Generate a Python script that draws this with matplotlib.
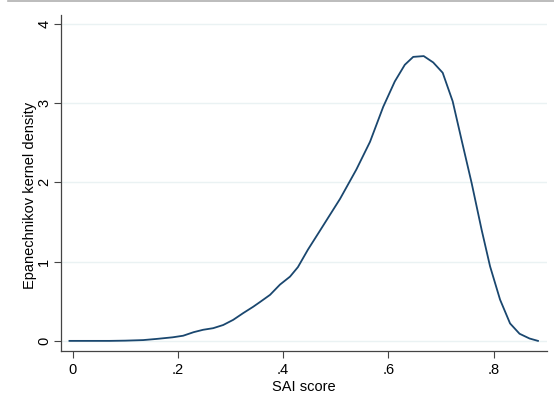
import numpy as np
import matplotlib.pyplot as plt
from matplotlib.lines import Line2D

# Kernel density estimate (SAI score vs density)
sai_score = [-0.006, 0.03, 0.07, 0.10, 0.134, 0.16, 0.19, 0.21, 0.23, 0.248,
             0.267, 0.286, 0.305, 0.324, 0.343, 0.356, 0.375, 0.394, 0.413,
             0.428, 0.447, 0.469, 0.488, 0.508, 0.539, 0.565, 0.590, 0.612,
             0.631, 0.647, 0.667, 0.685, 0.703, 0.722, 0.739, 0.758, 0.777,
             0.793, 0.812, 0.831, 0.849, 0.868, 0.884]
density = [0.0, 0.0, 0.0, 0.003, 0.01, 0.025, 0.045, 0.065, 0.11, 0.14,
           0.16, 0.20, 0.265, 0.35, 0.43, 0.49, 0.58, 0.71, 0.81,
           0.93, 1.15, 1.38, 1.58, 1.79, 2.16, 2.51, 2.95, 3.27,
           3.48, 3.58, 3.59, 3.51, 3.38, 3.02, 2.53, 1.99, 1.40,
           0.94, 0.52, 0.22, 0.09, 0.03, 0.0]

x_ticks = [0, 0.2, 0.4, 0.6, 0.8]
x_tick_labels = ['0', '.2', '.4', '.6', '.8']
y_ticks = [0, 1, 2, 3, 4]

plt.rcParams['font.family'] = ['Liberation Sans', 'DejaVu Sans']

fig = plt.figure(figsize=(5.54, 4.01), dpi=100)
ax = fig.add_axes([0.110, 0.125, 0.877, 0.838])

ax.plot(sai_score, density, color='#1a476f', linewidth=1.3)

ax.set_xlim(-0.0222, 0.9008)
ax.set_ylim(-0.126, 4.11)

ax.set_xticks(x_ticks)
ax.set_xticklabels(x_tick_labels)
ax.set_yticks(y_ticks)
ax.set_yticklabels([str(v) for v in y_ticks], rotation=90, va='center')

# Stata-like look: light grid, only left and bottom axes
ax.grid(axis='y', color='#eaf2f3', linewidth=1.0)
ax.set_axisbelow(True)
for side in ['top', 'right']:
    ax.spines[side].set_visible(False)
for side in ['left', 'bottom']:
    ax.spines[side].set_color('#444444')
    ax.spines[side].set_linewidth(0.9)
ax.tick_params(direction='out', length=5, width=0.8, color='#444444',
               labelsize=10.5)
ax.tick_params(axis='x', pad=4)
ax.tick_params(axis='y', pad=2)

ax.set_xlabel('SAI score', fontsize=10.5, labelpad=2)
ax.set_ylabel('Epanechnikov kernel density', fontsize=10.5, va='center')
ax.yaxis.set_label_coords(-0.064, 0.464)

# thin gray rule along the top edge of the picture
fig.add_artist(Line2D([0.015, 1], [0.9985, 0.9985], color='#b0b0b0',
                      linewidth=1.2, transform=fig.transFigure))

fig.savefig('out.png', dpi=100)
